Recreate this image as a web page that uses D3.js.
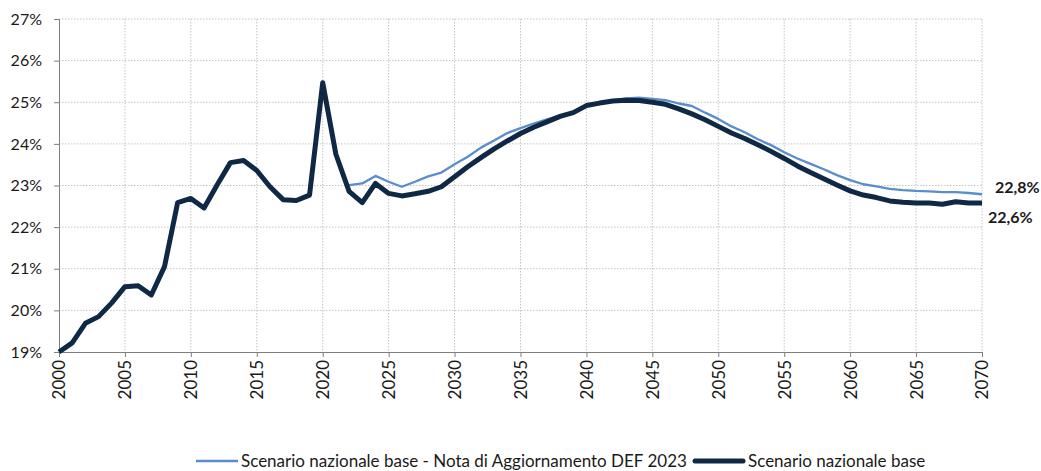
<!DOCTYPE html>
<html>
<head>
<meta charset="utf-8">
<script src="https://cdn.jsdelivr.net/npm/d3@7"></script>
<style>
  body { margin: 0; background: #fff; }
  text { font-family: Lato, "Open Sans", sans-serif; fill: #1a1a1a; }
</style>
</head>
<body>
<div id="chart"></div>
<script>
const width = 1041;
const height = 471;

// years and series
const years = d3.range(2000, 2071);
const baseValues = [
  19.00, 19.22, 19.69, 19.85, 20.18, 20.57, 20.59, 20.37, 21.05, 22.59,
  22.69, 22.46, 23.02, 23.55, 23.60, 23.36, 22.97, 22.66, 22.64, 22.77,
  25.47, 23.75, 22.86, 22.59, 23.05, 22.81, 22.75, 22.80, 22.86, 22.97,
  23.21, 23.45, 23.67, 23.88, 24.07, 24.25, 24.40, 24.53, 24.66, 24.75,
  24.92, 24.98, 25.03, 25.05, 25.04, 25.00, 24.95, 24.84, 24.72, 24.58,
  24.42, 24.26, 24.13, 23.98, 23.82, 23.65, 23.47, 23.31, 23.16, 23.01,
  22.87, 22.77, 22.71, 22.63, 22.60, 22.58, 22.58, 22.55, 22.61, 22.58,
  22.58
];
const notaYears = d3.range(2022, 2071);
const notaValues = [
  23.01, 23.05, 23.23, 23.09, 22.97, 23.09, 23.22, 23.31,
  23.51, 23.69, 23.91, 24.08, 24.26, 24.38, 24.49, 24.59, 24.68, 24.76,
  24.92, 24.99, 25.05, 25.09, 25.11, 25.08, 25.05, 24.97, 24.91, 24.75,
  24.60, 24.42, 24.28, 24.11, 23.97, 23.80, 23.65, 23.52, 23.39, 23.25,
  23.13, 23.03, 22.98, 22.92, 22.89, 22.87, 22.86, 22.84, 22.84, 22.82,
  22.79
];
const seriesNames = [
  "Scenario nazionale base - Nota di Aggiornamento DEF 2023",
  "Scenario nazionale base"
];
const endLabels = ["22,8%", "22,6%"];
const yTicks = [19, 20, 21, 22, 23, 24, 25, 26, 27];
const xTicks = d3.range(2000, 2071, 5);

const lightBlue = "#5b8dcc";
const navy = "#0e2846";

const svg = d3.select("#chart").append("svg")
  .attr("width", width)
  .attr("height", height);

const x = d3.scaleLinear().domain([2000, 2070]).range([59, 982]);
const y = d3.scaleLinear().domain([19, 27]).range([352, 19]);

// grid
const grid = svg.append("g");
grid.selectAll(".hgrid")
  .data(yTicks.slice(1))
  .enter().append("line")
  .attr("x1", x(2000)).attr("x2", x(2070))
  .attr("y1", d => y(d)).attr("y2", d => y(d))
  .attr("stroke", "#c4c4c4")
  .attr("stroke-dasharray", "1.5,1.5");
grid.selectAll(".vgrid")
  .data(xTicks.slice(1))
  .enter().append("line")
  .attr("x1", d => x(d)).attr("x2", d => x(d))
  .attr("y1", y(27)).attr("y2", y(19))
  .attr("stroke", "#c4c4c4")
  .attr("stroke-dasharray", "1.5,1.5");

// y axis
const yAxis = svg.append("g")
  .attr("transform", "translate(" + x(2000) + ",0)")
  .call(d3.axisLeft(y).tickValues(yTicks).tickSize(5).tickPadding(12)
    .tickFormat(d => d + "%"));
yAxis.select(".domain").attr("stroke", "#7f7f7f");
yAxis.selectAll(".tick line").attr("stroke", "#7f7f7f");
yAxis.selectAll("text")
  .style("font-size", "16px")
  .attr("fill", "#1a1a1a");

// x axis
const xAxis = svg.append("g")
  .attr("transform", "translate(0," + y(19) + ")")
  .call(d3.axisBottom(x).tickValues(xTicks).tickSize(5).tickFormat(d3.format("d")));
xAxis.select(".domain").attr("stroke", "#7f7f7f");
xAxis.selectAll(".tick line").attr("stroke", "#7f7f7f");
xAxis.selectAll("text")
  .style("font-size", "17px")
  .attr("fill", "#1a1a1a")
  .attr("text-anchor", "end")
  .attr("dy", "0.35em")
  .attr("transform", "translate(0,2) rotate(-90)")
  .attr("x", -6)
  .attr("y", 0);

// lines
const line = d3.line()
  .x(d => x(d[0]))
  .y(d => y(d[1]));

svg.append("path")
  .datum(notaYears.map((yr, i) => [yr, notaValues[i]]))
  .attr("fill", "none")
  .attr("stroke", lightBlue)
  .attr("stroke-width", 2.3)
  .attr("stroke-linejoin", "round")
  .attr("d", line);

svg.append("path")
  .datum(years.map((yr, i) => [yr, baseValues[i]]))
  .attr("fill", "none")
  .attr("stroke", navy)
  .attr("stroke-width", 5)
  .attr("stroke-linejoin", "round")
  .attr("d", line);

// end labels
svg.append("text")
  .attr("x", x(2070) + 13)
  .attr("y", y(notaValues[notaValues.length - 1]) - 1)
  .style("font-size", "16px")
  .style("font-weight", "bold")
  .text(endLabels[0]);
svg.append("text")
  .attr("x", x(2070) + 6)
  .attr("y", y(baseValues[baseValues.length - 1]) + 20)
  .style("font-size", "16px")
  .style("font-weight", "bold")
  .text(endLabels[1]);

// legend
const legend = svg.append("g");
legend.append("line")
  .attr("x1", 196).attr("x2", 238)
  .attr("y1", 461).attr("y2", 461)
  .attr("stroke", lightBlue)
  .attr("stroke-width", 2.3);
legend.append("text")
  .attr("x", 241).attr("y", 467)
  .style("font-size", "17px")
  .text(seriesNames[0]);
legend.append("line")
  .attr("x1", 695).attr("x2", 743)
  .attr("y1", 461).attr("y2", 461)
  .attr("stroke", navy)
  .attr("stroke-width", 5)
  .attr("stroke-linecap", "round");
legend.append("text")
  .attr("x", 748).attr("y", 467)
  .style("font-size", "17px")
  .text(seriesNames[1]);
</script>
</body>
</html>
